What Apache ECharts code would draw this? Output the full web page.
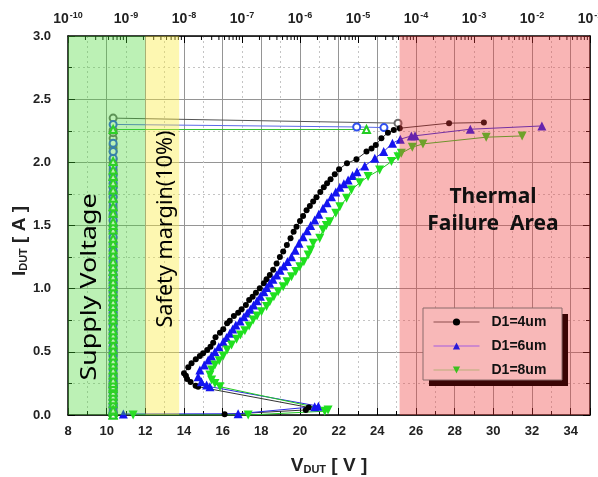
<!DOCTYPE html>
<html><head><meta charset="utf-8">
<script src="https://cdn.jsdelivr.net/npm/echarts@6/dist/echarts.min.js"></script>
<style>html,body{margin:0;padding:0;background:#fff}#c{width:598px;height:477px}</style>
</head><body><div id="c"></div>
<script>
// TLP data [V_DUT (V), I_DUT (A)] in measurement order
const tlp4 = [[16.1,0.005],[20.3,0.04],[20.45,0.06],[14.73,0.224],[14.6,0.232],[14.34,0.262],[14.16,0.285],[14.1,0.31],[14.0,0.33],[14.22,0.378],[14.39,0.409],[14.61,0.441],[14.82,0.467],[14.99,0.488],[15.2,0.515],[15.37,0.541],[15.51,0.572],[15.63,0.615],[15.86,0.652],[16.03,0.678],[16.23,0.726],[16.37,0.747],[16.58,0.784],[16.8,0.81],[16.98,0.837],[17.2,0.871],[17.37,0.91],[17.55,0.937],[17.72,0.968],[17.92,1.003],[18.13,1.043],[18.27,1.074],[18.44,1.108],[18.61,1.15],[18.79,1.2],[18.96,1.25],[19.13,1.295],[19.32,1.345],[19.51,1.4],[19.67,1.45],[19.82,1.491],[20.0,1.535],[20.16,1.576],[20.34,1.62],[20.51,1.655],[20.68,1.69],[20.85,1.724],[21.05,1.765],[21.23,1.803],[21.4,1.835],[21.58,1.866],[21.8,1.905],[22.02,1.945],[22.43,1.993],[22.92,2.024],[23.44,2.085],[23.7,2.11],[23.92,2.138],[24.21,2.19],[24.55,2.235],[24.85,2.255],[25.16,2.27],[27.71,2.31],[29.51,2.315]];
const tlp6 = [[10.86,0.008],[16.8,0.01],[20.76,0.066],[20.95,0.07],[15.34,0.224],[15.17,0.238],[14.9,0.264],[14.73,0.303],[14.82,0.356],[15.05,0.395],[15.25,0.435],[15.42,0.468],[15.6,0.501],[15.8,0.54],[16.03,0.58],[16.2,0.613],[16.37,0.647],[16.52,0.68],[16.68,0.713],[16.9,0.745],[17.1,0.778],[17.27,0.808],[17.44,0.837],[17.6,0.87],[17.78,0.905],[17.95,0.94],[18.13,0.976],[18.28,1.01],[18.44,1.043],[18.6,1.075],[18.79,1.108],[18.97,1.145],[19.16,1.18],[19.35,1.215],[19.56,1.253],[19.75,1.305],[19.95,1.359],[20.16,1.41],[20.37,1.459],[20.55,1.5],[20.76,1.544],[20.97,1.59],[21.19,1.636],[21.4,1.68],[21.63,1.728],[21.85,1.765],[22.06,1.803],[22.27,1.83],[22.49,1.861],[22.72,1.895],[22.95,1.926],[23.35,1.971],[23.87,2.032],[24.33,2.085],[24.78,2.151],[25.19,2.183],[25.76,2.209],[25.95,2.21],[28.81,2.262],[32.51,2.288]];
const tlp8 = [[11.37,0.0],[17.32,0.0],[21.28,0.03],[21.45,0.04],[15.86,0.224],[15.6,0.25],[15.43,0.277],[15.34,0.317],[15.43,0.356],[15.6,0.396],[15.82,0.43],[16.03,0.467],[16.23,0.515],[16.46,0.554],[16.72,0.599],[16.92,0.633],[17.15,0.667],[17.37,0.705],[17.58,0.752],[17.78,0.784],[18.01,0.818],[18.27,0.858],[18.44,0.897],[18.65,0.937],[18.87,0.976],[19.13,1.016],[19.33,1.055],[19.56,1.095],[19.78,1.135],[19.99,1.174],[20.2,1.214],[20.42,1.267],[20.55,1.306],[20.68,1.359],[21.02,1.399],[21.19,1.465],[21.36,1.5],[21.54,1.53],[21.85,1.597],[22.06,1.649],[22.41,1.716],[22.66,1.781],[23.09,1.839],[23.52,1.887],[24.12,1.94],[24.73,2.006],[25.07,2.045],[25.24,2.072],[25.81,2.12],[26.36,2.146],[29.63,2.199],[31.49,2.209]];

// Leakage (top log axis, A): column level, extra low-current column readings, final failure readings [leak, I]
const leakColumn = 6.0e-10;
const leakLowI = [0.02,0.09,0.12,0.15,0.18,0.21];
const leakEnd4 = [[6.0e-10,2.35],[4.9e-5,2.31]];
const leakEnd6 = [[6.0e-10,2.30],[9.5e-6,2.28],[2.8e-5,2.275]];
const leakEnd8 = [[6.0e-10,2.26],[1.4e-5,2.26]];

const seriesNames = ['D1=4um','D1=6um','D1=8um'];
const xTicks = [8,10,12,14,16,18,20,22,24,26,28,30,32,34];
const yTicks = ['0.0','0.5','1.0','1.5','2.0','2.5','3.0'];
const regionGreen = [8,12], regionYellow = [12,13.75], regionRed = [25.15,35];

function leakData(tlp, end){
  const col = leakLowI.map(i => [leakColumn, i])
    .concat(tlp.filter(p => p[0] < 25).map(p => [leakColumn, p[1]]));
  return col.concat(end);
}
const logMinor = [];
for (let e = -10; e < -1; e++) for (let k = 2; k <= 9; k++) logMinor.push([k*Math.pow(10,e), 3]);

const F = 'Liberation Sans, Arial, sans-serif';
const chart = echarts.init(document.getElementById('c'), null, {renderer:'canvas'});
const axisLineS = {show:true, onZero:false, lineStyle:{color:'#000', width:1.5}};
chart.setOption({
  animation:false,
  backgroundColor:'#fff',
  grid:{left:68, right:8, top:36, bottom:62, containLabel:false, outerBoundsMode:'none'},
  legend:{
    z:30, left:423, top:308, orient:'vertical',
    itemWidth:46, itemHeight:9, itemGap:10,
    padding:[7,12,5,10],
    backgroundColor:'transparent', borderWidth:0,
    textStyle:{fontFamily:F, fontWeight:'bold', fontSize:14, color:'#111', padding:[0,0,0,7]},
    data:[
      {name:seriesNames[0], itemStyle:{color:'#000'}, lineStyle:{color:'#8c4c4c', width:1}},
      {name:seriesNames[1], itemStyle:{color:'#2a1ad8'}, lineStyle:{color:'#a45ae0', width:1}},
      {name:seriesNames[2], itemStyle:{color:'#3cc020'}, lineStyle:{color:'#b9ae78', width:1}}
    ]
  },
  xAxis:[
    {type:'value', position:'bottom', min:8, max:35, interval:2,
     axisLine:axisLineS,
     axisTick:{inside:true, length:7, lineStyle:{color:'#000', width:1}},
     minorTick:{show:true, splitNumber:2, length:4, lineStyle:{color:'#000'}},
     axisLabel:{showMaxLabel:false, margin:10, fontFamily:F, fontWeight:'bold', fontSize:13, color:'#222',
       formatter:v => xTicks.indexOf(v) >= 0 ? String(v) : ''},
     splitLine:{show:true, lineStyle:{color:'#959595', width:1}},
     minorSplitLine:{show:true, lineStyle:{color:'#c4c4c4', width:1, type:[2,3]}},
     name:'{m|V}{s|DUT}{m| [ V ]}', nameLocation:'middle', nameGap:41,
     nameTextStyle:{rich:{m:{fontFamily:F, fontWeight:'bold', fontSize:19, color:'#222'},
                         s:{fontFamily:F, fontWeight:'bold', fontSize:11, color:'#222', verticalAlign:'bottom', padding:[8,0,0,0]}}}
    },
    {type:'log', position:'top', logBase:10, min:1e-10, max:1e-1, splitNumber:9,
     axisLine:axisLineS,
     axisTick:{inside:true, length:7, lineStyle:{color:'#000', width:1}},
     axisLabel:{margin:8, formatter:v => '{b|10}{s|' + Math.round(Math.log10(v)) + '}',
       rich:{b:{fontFamily:F, fontWeight:'bold', fontSize:14, color:'#222'},
             s:{fontFamily:F, fontWeight:'bold', fontSize:9, color:'#222', verticalAlign:'top', padding:[0,0,8,1]}}},
     splitLine:{show:false}
    }
  ],
  yAxis:[
    {type:'value', position:'left', min:0, max:3, interval:0.5,
     axisLine:axisLineS,
     axisTick:{inside:true, length:7, lineStyle:{color:'#000'}},
     minorTick:{show:true, splitNumber:2, length:4, lineStyle:{color:'#000'}},
     axisLabel:{margin:17, fontFamily:F, fontWeight:'bold', fontSize:13, color:'#222',
       formatter:v => yTicks[Math.round(v*2)] || ''},
     splitLine:{show:true, lineStyle:{color:'#959595', width:1}},
     minorSplitLine:{show:true, lineStyle:{color:'#c4c4c4', width:1, type:[2,3]}}
    },
    {type:'value', position:'right', min:0, max:3, interval:0.5,
     axisLine:axisLineS,
     axisTick:{inside:true, length:7, lineStyle:{color:'#000'}},
     minorTick:{show:true, splitNumber:2, length:4, lineStyle:{color:'#000'}},
     axisLabel:{show:false}, splitLine:{show:false}}
  ],
  series:[
    {name:'leak4', type:'line', xAxisIndex:1, yAxisIndex:0, data:leakData(tlp4, leakEnd4),
     symbol:'emptyCircle', symbolSize:7, itemStyle:{color:'#6a6a6a', borderWidth:1},
     lineStyle:{color:'#555', width:1}, z:2},
    {name:'leak6', type:'line', xAxisIndex:1, yAxisIndex:0, data:leakData(tlp6, leakEnd6),
     symbol:'emptyCircle', symbolSize:7, itemStyle:{color:'#3050ee', borderWidth:1},
     lineStyle:{color:'#5a6ae8', width:1}, z:2},
    {name:'leak8', type:'line', xAxisIndex:1, yAxisIndex:0, data:leakData(tlp8, leakEnd8),
     symbol:'emptyTriangle', symbolSize:7, itemStyle:{color:'#22cc22', borderWidth:1},
     lineStyle:{color:'#33c033', width:1}, z:2},
    {name:seriesNames[0], type:'line', data:tlp4, symbol:'circle', symbolSize:6,
     itemStyle:{color:'#000'}, lineStyle:{color:'#333', width:1}, z:3},
    {name:seriesNames[1], type:'line', data:tlp6, symbol:'triangle', symbolSize:9,
     itemStyle:{color:'#1414f0'}, lineStyle:{color:'#2a2ae0', width:1}, z:3},
    {name:seriesNames[2], type:'line', data:tlp8, symbol:'triangle', symbolRotate:180, symbolSize:9,
     itemStyle:{color:'#1fe01f'}, lineStyle:{color:'#22c822', width:1}, z:3},
    {name:'logMinorTicks', type:'custom', xAxisIndex:1, yAxisIndex:0, silent:true, z:4, data:logMinor,
     renderItem:(params, api) => {
       const p = api.coord([api.value(0), api.value(1)]);
       return {type:'line', shape:{x1:p[0], y1:p[1], x2:p[0], y2:p[1]+4}, style:{stroke:'#000', lineWidth:1}};
     }},
    {name:'regions', type:'line', data:[], z:10, silent:true,
     markArea:{silent:true, z:10, data:[
       [{xAxis:regionGreen[0], itemStyle:{color:'rgba(70,215,50,0.36)'}},{xAxis:regionGreen[1]}],
       [{xAxis:regionYellow[0], itemStyle:{color:'rgba(250,235,60,0.40)'}},{xAxis:regionYellow[1]}],
       [{xAxis:regionRed[0], itemStyle:{color:'rgba(240,60,60,0.38)'}},{xAxis:regionRed[1]}]
     ]}}
  ],
  graphic:[
    {type:'rect', z:25, silent:true, shape:{x:429, y:314, width:139, height:72}, style:{fill:'#3a0505'}},
    {type:'rect', z:26, silent:true, shape:{x:423, y:308, width:139, height:72}, style:{fill:'#f8b8b8', stroke:'#8a6a6a', lineWidth:1}},
    {type:'text', z:100, x:90, y:287, rotation:Math.PI/2, scaleX:1.22,
     style:{text:'Supply Voltage', font:'22px "Noto Sans"', fill:'#000', align:'center', verticalAlign:'middle'}},
    {type:'text', z:100, x:166, y:229, rotation:Math.PI/2, scaleX:1.03,
     style:{text:'Safety margin(10%)', font:'21px "Noto Sans"', fill:'#000', align:'center', verticalAlign:'middle'}},
    {type:'text', z:100, x:493, y:211,
     style:{text:'Thermal\nFailure  Area', font:'bold 21px "Noto Sans"', fill:'#111', align:'center', verticalAlign:'middle', lineHeight:27}},
    {type:'text', z:100, x:20, y:241, rotation:Math.PI/2,
     style:{text:'{m|I}{s|DUT}{m| [ A ]}', align:'center', verticalAlign:'middle',
       rich:{m:{fontFamily:F, fontWeight:'bold', fontSize:19, fill:'#222'},
             s:{fontFamily:F, fontWeight:'bold', fontSize:11, fill:'#222', verticalAlign:'bottom', padding:[8,0,0,0]}}}}
  ]
});
</script></body></html>
